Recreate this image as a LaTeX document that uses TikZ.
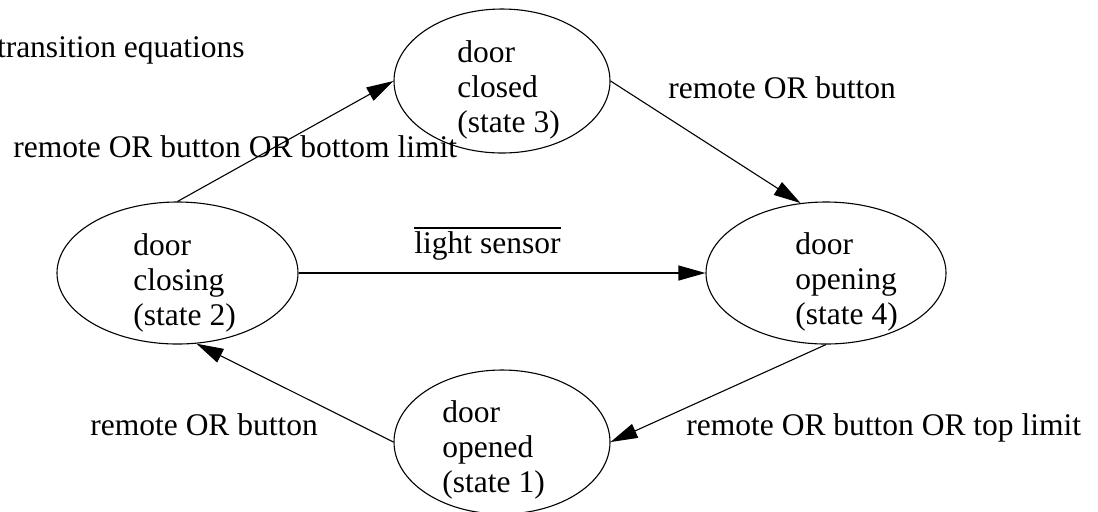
\documentclass[tikz,border=0pt]{standalone}
\usepackage{fontspec}
\setmainfont{Liberation Serif}
\usetikzlibrary{arrows.meta,shapes.geometric}
\newcommand\stxt[1]{\begin{tabular}[t]{@{}l@{}}#1\end{tabular}}
\newcommand\ovltext[1]{\setbox0=\hbox{#1}\rlap{\rule[12pt]{\wd0}{0.9pt}}\box0}
\tikzset{
  every node/.style={font=\fontsize{15.75pt}{17.5pt}\selectfont, inner sep=0pt},
  st/.style={ellipse, draw, line width=0.55pt},
  txt/.style={anchor=base west},
  lbl/.style={anchor=base west},
  edge/.style={line width=0.55pt, -{Triangle[length=13.5pt,width=7.5pt]}},
}
\begin{document}
\begin{tikzpicture}[x=0.5pt,y=-0.5pt]
\useasboundingbox (0,0) rectangle (1098,511);
% states
\node[st, minimum width=108pt, minimum height=72pt] (c3) at (502,81) {};
\node[st, minimum width=120.5pt, minimum height=71pt] (c2) at (177.5,273) {};
\node[st, minimum width=120pt, minimum height=71pt] (c4) at (826,273) {};
\node[st, minimum width=108pt, minimum height=72pt] (c1) at (502,442) {};
% state texts
\node[txt] (t3) at (457,62) {\stxt{door\\closed\\(state 3)}};
\node[txt] (t2) at (133,255) {\stxt{door\\closing\\(state 2)}};
\node[txt] (t4) at (795,254) {\stxt{door\\opening\\(state 4)}};
\node[txt] (t1) at (442,422) {\stxt{door\\opened\\(state 1)}};
% transitions
\draw[edge] (c2.north) -- (c3.west);
\draw[edge] (c3.east) -- (c4.110);
\draw[edge] (c4.south) -- (c1.east);
\draw[edge] (c1.west) -- (c2.-75);
\draw[edge] (c2.east) -- (c4.west);
% labels
\node[anchor=base east] (title) at (245,57) {transition equations};
\node[lbl] (l23) at (13,157) {remote OR button OR bottom limit};
\node[lbl] (l34) at (668,98) {remote OR button};
\node[lbl] (l24) at (414,253) {\ovltext{light sensor}};
\node[lbl] (l12) at (90,435) {remote OR button};
\node[lbl] (l41) at (686,435) {remote OR button OR top limit};
\end{tikzpicture}
\end{document}
